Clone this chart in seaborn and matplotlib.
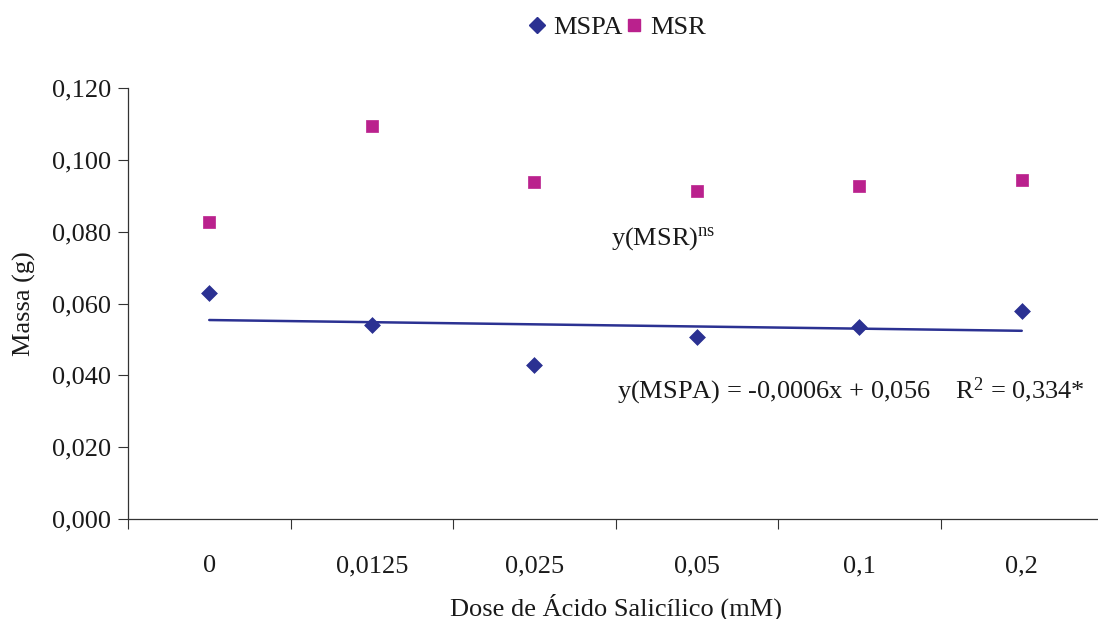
import numpy as np
import pandas as pd
import matplotlib
matplotlib.use("Agg")
import matplotlib.pyplot as plt
from matplotlib.ticker import FixedLocator, FuncFormatter
from matplotlib.lines import Line2D
import seaborn as sns

# Doses of salicylic acid (mM) shown as categories
doses = ["0", "0,0125", "0,025", "0,05", "0,1", "0,2"]
# Dry mass of aerial part (MSPA) and of roots (MSR), in g
mspa = [0.0629, 0.0540, 0.0429, 0.0507, 0.0535, 0.0579]
msr = [0.0827, 0.1094, 0.0938, 0.0913, 0.0927, 0.0944]
# Linear fit for MSPA: y = a*x + b, x = treatment number 1..6
fit_a = -0.0006
fit_b = 0.056
r2 = 0.334

sns.set_theme(style="white")
plt.rcParams["font.family"] = ["Liberation Serif", "DejaVu Serif"]
plt.rcParams["mathtext.fontset"] = "custom"
plt.rcParams["mathtext.rm"] = "Liberation Serif"
plt.rcParams["mathtext.it"] = "Liberation Serif:italic"

navy = "#2B3192"
magenta = "#BA218D"
txt = "#1a1a1a"
fs = 19

df = pd.DataFrame({"pos": np.arange(len(doses)), "dose": doses,
                   "MSPA": mspa, "MSR": msr})
df["fit"] = fit_a * (df["pos"] + 1) + fit_b

fig = plt.figure(figsize=(10.98, 6.19), dpi=100)
ax = fig.add_axes([128 / 1098, 100 / 619, 975 / 1098, 431 / 619])

sns.lineplot(data=df, x="pos", y="fit", color=navy, lw=1.8, ax=ax)
sns.scatterplot(data=df, x="pos", y="MSR", marker="s", s=85, color=magenta,
                edgecolor=magenta, linewidth=0.5, ax=ax, zorder=3)
sns.scatterplot(data=df, x="pos", y="MSPA", marker="D", s=65, color=navy,
                edgecolor=navy, linewidth=0.5, ax=ax, zorder=3)

ax.set_xlim(-0.5, len(doses) - 0.5)
ax.set_ylim(0, 0.12)

# category labels centred, tick marks between categories
ax.xaxis.set_major_locator(FixedLocator(np.arange(len(doses))))
ax.set_xticklabels(doses)
ax.xaxis.set_minor_locator(FixedLocator(np.arange(len(doses) + 1) - 0.5))
ax.tick_params(axis="x", which="major", length=0, pad=26, labelsize=fs,
               labelcolor=txt)
ax.tick_params(axis="x", which="minor", length=7, width=0.8, direction="out",
               color="#333333", bottom=True)

ax.yaxis.set_major_locator(FixedLocator(np.arange(0, 0.1201, 0.02)))
ax.yaxis.set_major_formatter(FuncFormatter(lambda v, p: f"{v:.3f}".replace(".", ",")))
ax.tick_params(axis="y", length=7, width=0.8, direction="out", pad=5,
               labelsize=fs, color="#333333", left=True, labelcolor=txt)

for side in ["top", "right"]:
    ax.spines[side].set_visible(False)
for side in ["left", "bottom"]:
    ax.spines[side].set_color("#333333")
    ax.spines[side].set_linewidth(0.9)

ax.set_xlabel("Dose de Ácido Salicílico (mM)", fontsize=fs, color=txt)
ax.set_ylabel("Massa (g)", fontsize=fs, color=txt)
ax.xaxis.set_label_coords(0.5, -0.173)
ax.yaxis.set_label_coords(-0.094, 0.5)

ax.text(2.47, 0.0782, r"y(MSR)$^{\mathrm{ns}}$", fontsize=fs, va="center",
        ha="left", color=txt)
eq = (f"y(MSPA) = {fit_a:.4f}x + {fit_b:.3f}".replace(".", ",")
      + "    R$^2$ = " + f"{r2:.3f}".replace(".", ",") + "*")
ax.text(2.51, 0.0356, eq, fontsize=fs, va="center", ha="left", color=txt)

handles = [
    Line2D([], [], marker="D", color=navy, linestyle="none", markersize=8),
    Line2D([], [], marker="s", color=magenta, linestyle="none", markersize=8.5),
]
fig.legend(handles, ["MSPA", "MSR"], loc="center", ncol=2,
           bbox_to_anchor=(0.562, 0.956), frameon=False, fontsize=fs,
           handlelength=0.7, handletextpad=0.25, columnspacing=0.1,
           labelcolor=txt)

fig.savefig("out.png", dpi=100)
